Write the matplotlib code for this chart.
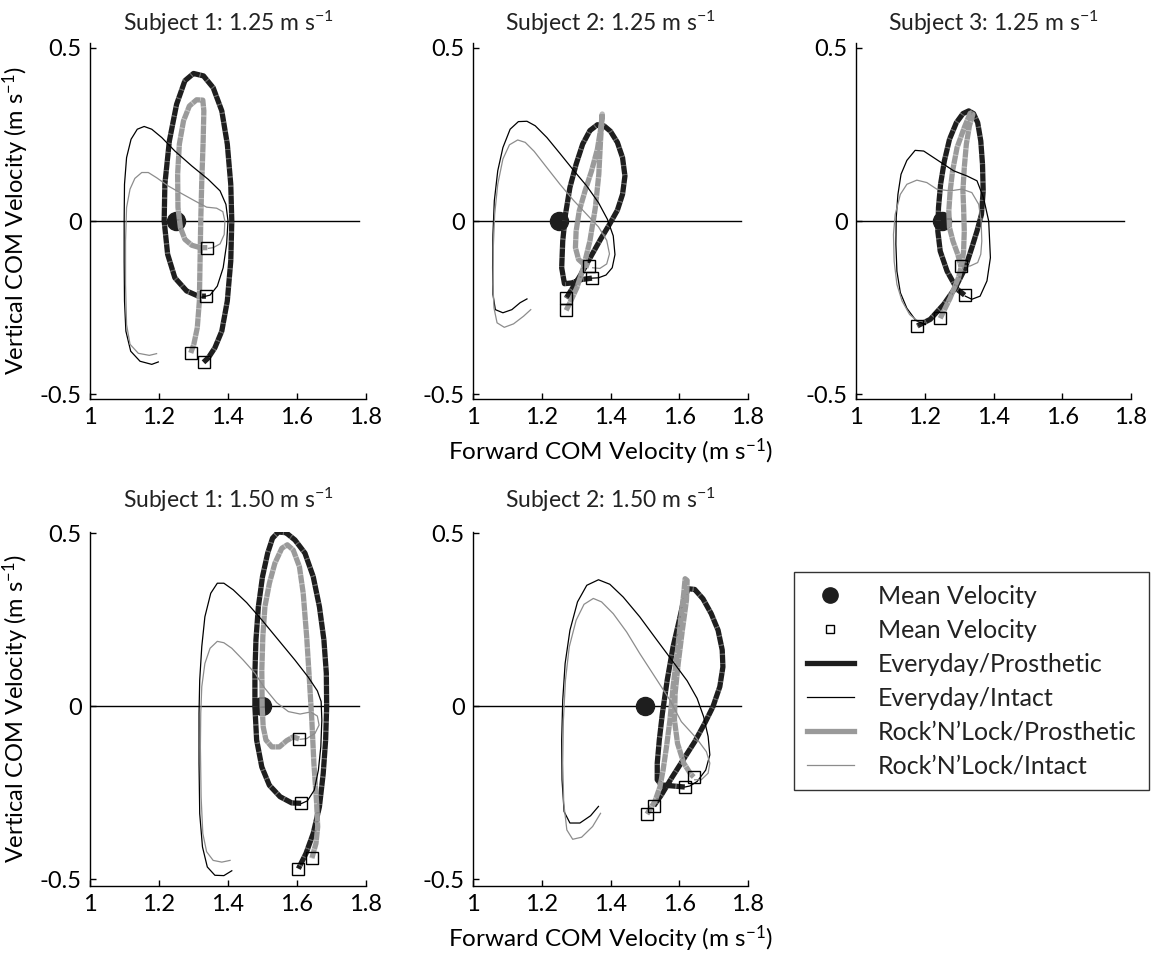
import matplotlib
matplotlib.use('Agg')
import matplotlib.pyplot as plt
from matplotlib.lines import Line2D

plt.rcParams['font.family'] = ['Lato', 'DejaVu Sans']
plt.rcParams['mathtext.fontset'] = 'custom'
plt.rcParams['mathtext.rm'] = 'Lato'
plt.rcParams['mathtext.default'] = 'regular'
plt.rcParams['text.color'] = '#222222'

# ---- data: forward (x) and vertical (y) COM velocity, m/s ----
x_ticks = [1.0, 1.2, 1.4, 1.6, 1.8]
x_tick_labels = ['1', '1.2', '1.4', '1.6', '1.8']
y_ticks = [-0.5, 0.0, 0.5]
y_tick_labels = ['-0.5', '0', '0.5']

titles = ['Subject 1: 1.25', 'Subject 2: 1.25', 'Subject 3: 1.25',
          'Subject 1: 1.50', 'Subject 2: 1.50']
mean_speed = [1.25, 1.25, 1.25, 1.50, 1.50]

# Subject 1, 1.25 m/s
s1_125_ev_pros_x = [1.336, 1.314, 1.280, 1.246, 1.225, 1.215, 1.217, 1.230, 1.251, 1.275, 1.300, 1.329,
                    1.357, 1.382, 1.398, 1.408, 1.411, 1.408, 1.398, 1.382, 1.362, 1.343, 1.329]
s1_125_ev_pros_y = [-0.217, -0.217, -0.202, -0.164, -0.096, 0.000, 0.106, 0.231, 0.337, 0.405, 0.426, 0.419,
                    0.385, 0.318, 0.222, 0.106, 0.000, -0.116, -0.231, -0.318, -0.366, -0.395, -0.408]
s1_125_ev_int_x = [1.198, 1.179, 1.145, 1.118, 1.104, 1.100, 1.099, 1.099, 1.100, 1.106, 1.119, 1.137, 1.157,
                   1.179, 1.208, 1.246, 1.295, 1.343, 1.377, 1.394, 1.400, 1.396, 1.386, 1.369, 1.348, 1.324]
s1_125_ev_int_y = [-0.407, -0.414, -0.405, -0.376, -0.318, -0.231, -0.116, 0.000, 0.106, 0.183, 0.236, 0.265,
                   0.273, 0.265, 0.241, 0.202, 0.159, 0.120, 0.087, 0.048, 0.000, -0.067, -0.135, -0.188,
                   -0.214, -0.220]
s1_125_rl_pros_x = [1.340, 1.319, 1.295, 1.275, 1.262, 1.255, 1.254, 1.259, 1.271, 1.288, 1.309, 1.327,
                    1.330, 1.328, 1.324, 1.321, 1.319, 1.317, 1.311, 1.301, 1.292]
s1_125_rl_pros_y = [-0.077, -0.077, -0.070, -0.053, -0.019, 0.039, 0.135, 0.222, 0.289, 0.332, 0.350, 0.349,
                    0.318, 0.231, 0.116, 0.000, -0.116, -0.231, -0.308, -0.356, -0.381]
s1_125_rl_int_x = [1.193, 1.172, 1.140, 1.116, 1.106, 1.103, 1.103, 1.106, 1.116, 1.130, 1.150, 1.169,
                   1.193, 1.227, 1.266, 1.304, 1.338, 1.367, 1.385, 1.391, 1.389, 1.377, 1.357, 1.343]
s1_125_rl_int_y = [-0.383, -0.388, -0.382, -0.356, -0.299, -0.183, -0.058, 0.039, 0.092, 0.123, 0.140, 0.140,
                   0.125, 0.101, 0.079, 0.058, 0.040, 0.037, 0.027, 0.000, -0.039, -0.066, -0.077, -0.079]

# Subject 2, 1.25 m/s
s2_125_ev_pros_x = [1.346, 1.316, 1.287, 1.266, 1.258, 1.261, 1.269, 1.282, 1.300, 1.319, 1.340, 1.362,
                    1.381, 1.400, 1.420, 1.435, 1.442, 1.435, 1.420, 1.398, 1.371, 1.342, 1.311, 1.290, 1.271]
s2_125_ev_pros_y = [-0.165, -0.169, -0.179, -0.181, -0.135, -0.058, 0.019, 0.097, 0.164, 0.222, 0.261, 0.278,
                    0.275, 0.259, 0.227, 0.183, 0.130, 0.077, 0.031, -0.008, -0.053, -0.104, -0.159, -0.193,
                    -0.223]
s2_125_ev_int_x = [1.157, 1.137, 1.113, 1.087, 1.065, 1.058, 1.057, 1.058, 1.062, 1.072, 1.087, 1.108, 1.132,
                   1.157, 1.181, 1.215, 1.253, 1.292, 1.331, 1.365, 1.391, 1.408, 1.413, 1.405, 1.387, 1.365,
                   1.346]
s2_125_ev_int_y = [-0.225, -0.236, -0.256, -0.265, -0.256, -0.212, -0.135, -0.039, 0.058, 0.145, 0.212, 0.265,
                   0.287, 0.288, 0.275, 0.241, 0.195, 0.147, 0.101, 0.053, 0.005, -0.043, -0.097, -0.135,
                   -0.156, -0.164, -0.165]
s2_125_rl_pros_x = [1.271, 1.282, 1.302, 1.321, 1.340, 1.356, 1.366, 1.371, 1.376, 1.372, 1.362, 1.345,
                    1.326, 1.309, 1.300, 1.298, 1.307, 1.323, 1.338]
s2_125_rl_pros_y = [-0.258, -0.236, -0.193, -0.135, -0.058, 0.039, 0.135, 0.232, 0.309, 0.270, 0.208, 0.145,
                    0.087, 0.029, -0.029, -0.077, -0.111, -0.125, -0.130]
s2_125_rl_int_x = [1.168, 1.147, 1.118, 1.091, 1.070, 1.061, 1.058, 1.059, 1.063, 1.072, 1.087, 1.106, 1.130,
                   1.152, 1.178, 1.215, 1.253, 1.292, 1.331, 1.365, 1.389, 1.397, 1.389, 1.369, 1.348]
s2_125_rl_int_y = [-0.256, -0.275, -0.297, -0.307, -0.294, -0.251, -0.183, -0.077, 0.019, 0.106, 0.179, 0.220,
                   0.234, 0.227, 0.201, 0.154, 0.106, 0.060, 0.019, -0.017, -0.056, -0.095, -0.124, -0.137,
                   -0.135]

# Subject 3, 1.25 m/s
s3_125_ev_pros_x = [1.316, 1.294, 1.265, 1.245, 1.238, 1.240, 1.246, 1.257, 1.272, 1.292, 1.311, 1.328,
                    1.342, 1.354, 1.363, 1.368, 1.370, 1.365, 1.352, 1.337, 1.318, 1.289, 1.255, 1.216, 1.178]
s3_125_ev_pros_y = [-0.214, -0.197, -0.145, -0.087, -0.029, 0.039, 0.106, 0.173, 0.236, 0.284, 0.310, 0.318,
                    0.310, 0.284, 0.231, 0.164, 0.087, 0.019, -0.029, -0.077, -0.135, -0.193, -0.241, -0.284,
                    -0.303]
s3_125_ev_int_x = [1.202, 1.174, 1.148, 1.129, 1.119, 1.116, 1.117, 1.122, 1.131, 1.148, 1.172, 1.197, 1.226,
                   1.255, 1.284, 1.323, 1.352, 1.371, 1.386, 1.391, 1.381, 1.361, 1.337, 1.318]
s3_125_ev_int_y = [-0.299, -0.287, -0.252, -0.207, -0.145, -0.067, 0.010, 0.077, 0.135, 0.175, 0.204, 0.202,
                   0.183, 0.164, 0.145, 0.130, 0.116, 0.067, 0.000, -0.106, -0.173, -0.217, -0.226, -0.217]
s3_125_rl_pros_x = [1.245, 1.274, 1.298, 1.308, 1.313, 1.315, 1.313, 1.311, 1.315, 1.321, 1.330, 1.340,
                    1.332, 1.315, 1.294, 1.281, 1.274, 1.270, 1.272, 1.282, 1.296, 1.305]
s3_125_rl_pros_y = [-0.281, -0.222, -0.164, -0.125, -0.087, -0.029, 0.039, 0.087, 0.154, 0.222, 0.275, 0.308,
                    0.311, 0.270, 0.212, 0.145, 0.087, 0.029, -0.019, -0.058, -0.096, -0.130]
s3_125_rl_int_x = [1.199, 1.177, 1.156, 1.134, 1.119, 1.111, 1.109, 1.114, 1.129, 1.148, 1.177, 1.206, 1.235,
                   1.274, 1.308, 1.337, 1.357, 1.364, 1.366, 1.363, 1.354, 1.332, 1.308]
s3_125_rl_int_y = [-0.292, -0.287, -0.270, -0.231, -0.183, -0.116, -0.039, 0.019, 0.077, 0.106, 0.118, 0.111,
                   0.092, 0.087, 0.092, 0.082, 0.048, 0.000, -0.058, -0.096, -0.120, -0.130, -0.130]

# Subject 1, 1.50 m/s
s1_150_ev_pros_x = [1.612, 1.585, 1.551, 1.520, 1.498, 1.483, 1.478, 1.478, 1.481, 1.488, 1.500, 1.515,
                    1.529, 1.546, 1.568, 1.594, 1.623, 1.647, 1.665, 1.678, 1.685, 1.686, 1.683, 1.676,
                    1.665, 1.647, 1.626, 1.604]
s1_150_ev_pros_y = [-0.281, -0.280, -0.262, -0.229, -0.176, -0.098, -0.002, 0.095, 0.191, 0.287, 0.374, 0.442,
                    0.485, 0.503, 0.501, 0.480, 0.442, 0.374, 0.287, 0.191, 0.095, -0.002, -0.098, -0.195,
                    -0.291, -0.368, -0.426, -0.470]
s1_150_ev_int_x = [1.411, 1.388, 1.362, 1.340, 1.326, 1.318, 1.316, 1.316, 1.318, 1.324, 1.333, 1.350, 1.369,
                   1.388, 1.415, 1.454, 1.498, 1.546, 1.594, 1.633, 1.659, 1.670, 1.672, 1.669, 1.662, 1.650,
                   1.630, 1.612]
s1_150_ev_int_y = [-0.476, -0.490, -0.489, -0.465, -0.407, -0.311, -0.166, -0.021, 0.075, 0.172, 0.258, 0.326,
                   0.355, 0.355, 0.336, 0.299, 0.249, 0.191, 0.133, 0.083, 0.044, 0.013, -0.041, -0.118,
                   -0.185, -0.243, -0.274, -0.282]
s1_150_rl_pros_x = [1.606, 1.589, 1.570, 1.549, 1.527, 1.510, 1.502, 1.499, 1.498, 1.501, 1.507, 1.520,
                    1.536, 1.556, 1.572, 1.589, 1.607, 1.618, 1.628, 1.636, 1.643, 1.649, 1.657, 1.660,
                    1.655, 1.643]
s1_150_rl_pros_y = [-0.095, -0.089, -0.100, -0.118, -0.118, -0.098, -0.060, -0.002, 0.104, 0.201, 0.287, 0.355,
                    0.413, 0.456, 0.466, 0.451, 0.403, 0.326, 0.201, 0.075, -0.041, -0.166, -0.282, -0.349,
                    -0.397, -0.440]
s1_150_rl_int_x = [1.406, 1.382, 1.357, 1.338, 1.327, 1.322, 1.320, 1.321, 1.324, 1.333, 1.348, 1.369, 1.388,
                   1.411, 1.444, 1.478, 1.507, 1.541, 1.575, 1.609, 1.640, 1.659, 1.664, 1.652, 1.628, 1.609]
s1_150_rl_int_y = [-0.446, -0.451, -0.446, -0.421, -0.368, -0.262, -0.118, -0.021, 0.056, 0.123, 0.167, 0.187,
                   0.183, 0.167, 0.133, 0.095, 0.051, 0.010, -0.016, -0.023, -0.017, -0.029, -0.055, -0.079,
                   -0.094, -0.096]

# Subject 2, 1.50 m/s
s2_150_ev_pros_x = [1.616, 1.582, 1.548, 1.536, 1.536, 1.542, 1.551, 1.565, 1.582, 1.600, 1.613, 1.626,
                    1.645, 1.669, 1.693, 1.713, 1.725, 1.727, 1.718, 1.698, 1.674, 1.645, 1.611, 1.577,
                    1.548, 1.526]
s2_150_ev_pros_y = [-0.234, -0.231, -0.228, -0.213, -0.165, -0.098, -0.021, 0.075, 0.171, 0.248, 0.306, 0.339,
                    0.337, 0.310, 0.267, 0.219, 0.162, 0.113, 0.056, -0.002, -0.050, -0.103, -0.156, -0.209,
                    -0.257, -0.288]
s2_150_ev_int_x = [1.365, 1.342, 1.311, 1.282, 1.265, 1.259, 1.258, 1.261, 1.268, 1.282, 1.304, 1.331, 1.365,
                   1.398, 1.437, 1.485, 1.534, 1.582, 1.623, 1.652, 1.671, 1.684, 1.689, 1.677, 1.652, 1.631,
                   1.616]
s2_150_ev_int_y = [-0.290, -0.317, -0.338, -0.338, -0.305, -0.213, -0.098, 0.017, 0.123, 0.219, 0.301, 0.349,
                   0.365, 0.352, 0.315, 0.258, 0.192, 0.128, 0.073, 0.022, -0.031, -0.088, -0.141, -0.185,
                   -0.218, -0.231, -0.234]
s2_150_rl_pros_x = [1.506, 1.529, 1.544, 1.553, 1.563, 1.573, 1.582, 1.594, 1.604, 1.613, 1.617, 1.623,
                    1.621, 1.609, 1.597, 1.588, 1.586, 1.595, 1.613, 1.633, 1.642]
s2_150_rl_pros_y = [-0.312, -0.276, -0.233, -0.185, -0.117, -0.040, 0.056, 0.152, 0.248, 0.325, 0.368, 0.363,
                    0.306, 0.219, 0.123, 0.037, -0.040, -0.108, -0.165, -0.196, -0.205]
s2_150_rl_int_x = [1.371, 1.348, 1.316, 1.290, 1.273, 1.264, 1.261, 1.263, 1.269, 1.280, 1.300, 1.323, 1.350,
                   1.374, 1.408, 1.447, 1.485, 1.534, 1.573, 1.606, 1.650, 1.679, 1.689, 1.684, 1.664, 1.645]
s2_150_rl_int_y = [-0.310, -0.348, -0.379, -0.385, -0.358, -0.281, -0.165, -0.040, 0.075, 0.171, 0.248, 0.294,
                   0.311, 0.301, 0.267, 0.214, 0.152, 0.077, 0.017, -0.045, -0.093, -0.132, -0.165, -0.194,
                   -0.213, -0.213]

ev_pros = [(s1_125_ev_pros_x, s1_125_ev_pros_y), (s2_125_ev_pros_x, s2_125_ev_pros_y),
           (s3_125_ev_pros_x, s3_125_ev_pros_y), (s1_150_ev_pros_x, s1_150_ev_pros_y),
           (s2_150_ev_pros_x, s2_150_ev_pros_y)]
ev_int = [(s1_125_ev_int_x, s1_125_ev_int_y), (s2_125_ev_int_x, s2_125_ev_int_y),
          (s3_125_ev_int_x, s3_125_ev_int_y), (s1_150_ev_int_x, s1_150_ev_int_y),
          (s2_150_ev_int_x, s2_150_ev_int_y)]
rl_pros = [(s1_125_rl_pros_x, s1_125_rl_pros_y), (s2_125_rl_pros_x, s2_125_rl_pros_y),
           (s3_125_rl_pros_x, s3_125_rl_pros_y), (s1_150_rl_pros_x, s1_150_rl_pros_y),
           (s2_150_rl_pros_x, s2_150_rl_pros_y)]
rl_int = [(s1_125_rl_int_x, s1_125_rl_int_y), (s2_125_rl_int_x, s2_125_rl_int_y),
          (s3_125_rl_int_x, s3_125_rl_int_y), (s1_150_rl_int_x, s1_150_rl_int_y),
          (s2_150_rl_int_x, s2_150_rl_int_y)]

legend_labels = ['Mean Velocity', 'Mean Velocity', 'Everyday/Prosthetic', 'Everyday/Intact',
                 'Rock\u2019N\u2019Lock/Prosthetic', 'Rock\u2019N\u2019Lock/Intact']

UNIT = r'(m s$^{-1}$)'
BLACK = '#1e1e1e'
GREY = '#9a9a9a'
THIN_GREY = '#8c8c8c'
THICK = 3.8
THIN = 0.9
# thick traces: long segments separated by faint slivers
TEXTURE = (0, (1.6, 0.14))

# axes boxes [left, bottom, width, height] in figure fractions
W, H = 1156, 957
boxes = [
    [90 / W, 1 - 399 / H, 276 / W, 356 / H],
    [473 / W, 1 - 399 / H, 275 / W, 356 / H],
    [856 / W, 1 - 399 / H, 275 / W, 356 / H],
    [90 / W, 1 - 886 / H, 276 / W, 354 / H],
    [473 / W, 1 - 886 / H, 275 / W, 354 / H],
]
ylims = [(-0.514, 0.514)] * 3 + [(-0.52, 0.503)] * 2

fig = plt.figure(figsize=(W / 100, H / 100), dpi=100)

for i in range(5):
    ax = fig.add_axes(boxes[i])
    ax.axhline(0, xmin=0, xmax=0.975, color='black', lw=1.0, zorder=1)
    # mean walking speed sits on the zero line
    ax.plot(mean_speed[i], 0, 'o', ms=13, color=BLACK, zorder=2)

    ex, ey = ev_pros[i]
    rx, ry = rl_pros[i]
    ax.plot(ex, ey, color=BLACK, lw=THICK, ls=TEXTURE, gapcolor='#444444',
            dash_capstyle='butt', dash_joinstyle='round', zorder=3)
    ax.plot(rx, ry, color=GREY, lw=THICK, ls=TEXTURE, gapcolor='#b8b8b8',
            dash_capstyle='butt', dash_joinstyle='round', zorder=4)
    ax.plot(*ev_int[i], color='black', lw=THIN, zorder=5)
    ax.plot(*rl_int[i], color=THIN_GREY, lw=THIN, zorder=5)

    # step events at both ends of the prosthetic-side curves
    for cx, cy in (ev_pros[i], rl_pros[i]):
        ax.plot([cx[0], cx[-1]], [cy[0], cy[-1]], 's', ms=8, mfc='none', mec='black',
                mew=1.0, zorder=6)

    ax.set_xlim(1.0, 1.8)
    ax.set_ylim(*ylims[i])
    ax.set_xticks(x_ticks)
    ax.set_xticklabels(x_tick_labels)
    ax.set_yticks(y_ticks)
    ax.set_yticklabels(y_tick_labels)
    ax.tick_params(direction='in', length=4, width=1, labelsize=17, pad=6)
    for side in ('top', 'right'):
        ax.spines[side].set_visible(False)
    for side in ('left', 'bottom'):
        ax.spines[side].set_linewidth(1.0)

    ax.set_title(titles[i] + r' m s$^{-1}$', fontsize=16.5, pad=9 if i < 3 else 17)
    if i in (0, 3):
        ax.set_ylabel('Vertical COM Velocity ' + UNIT, fontsize=17, labelpad=6)
    if i in (1, 4):
        ax.set_xlabel('Forward COM Velocity ' + UNIT, fontsize=17.5, labelpad=6)

handles = [
    Line2D([], [], ls='none', marker='o', ms=11, color=BLACK),
    Line2D([], [], ls='none', marker='s', ms=6, mfc='none', mec='black', mew=1.0),
    Line2D([], [], color=BLACK, lw=THICK),
    Line2D([], [], color='black', lw=THIN),
    Line2D([], [], color=GREY, lw=THICK),
    Line2D([], [], color=THIN_GREY, lw=THIN),
]
leg = fig.legend(handles, legend_labels, loc='upper left', bbox_to_anchor=(794 / W, 1 - 572 / H),
                 fontsize=18, frameon=True, fancybox=False, edgecolor='black', borderaxespad=0,
                 handlelength=1.9, handletextpad=0.95, labelspacing=0.44, borderpad=0.5)
leg.get_frame().set_linewidth(1.0)

fig.savefig('out.png', dpi=100)
